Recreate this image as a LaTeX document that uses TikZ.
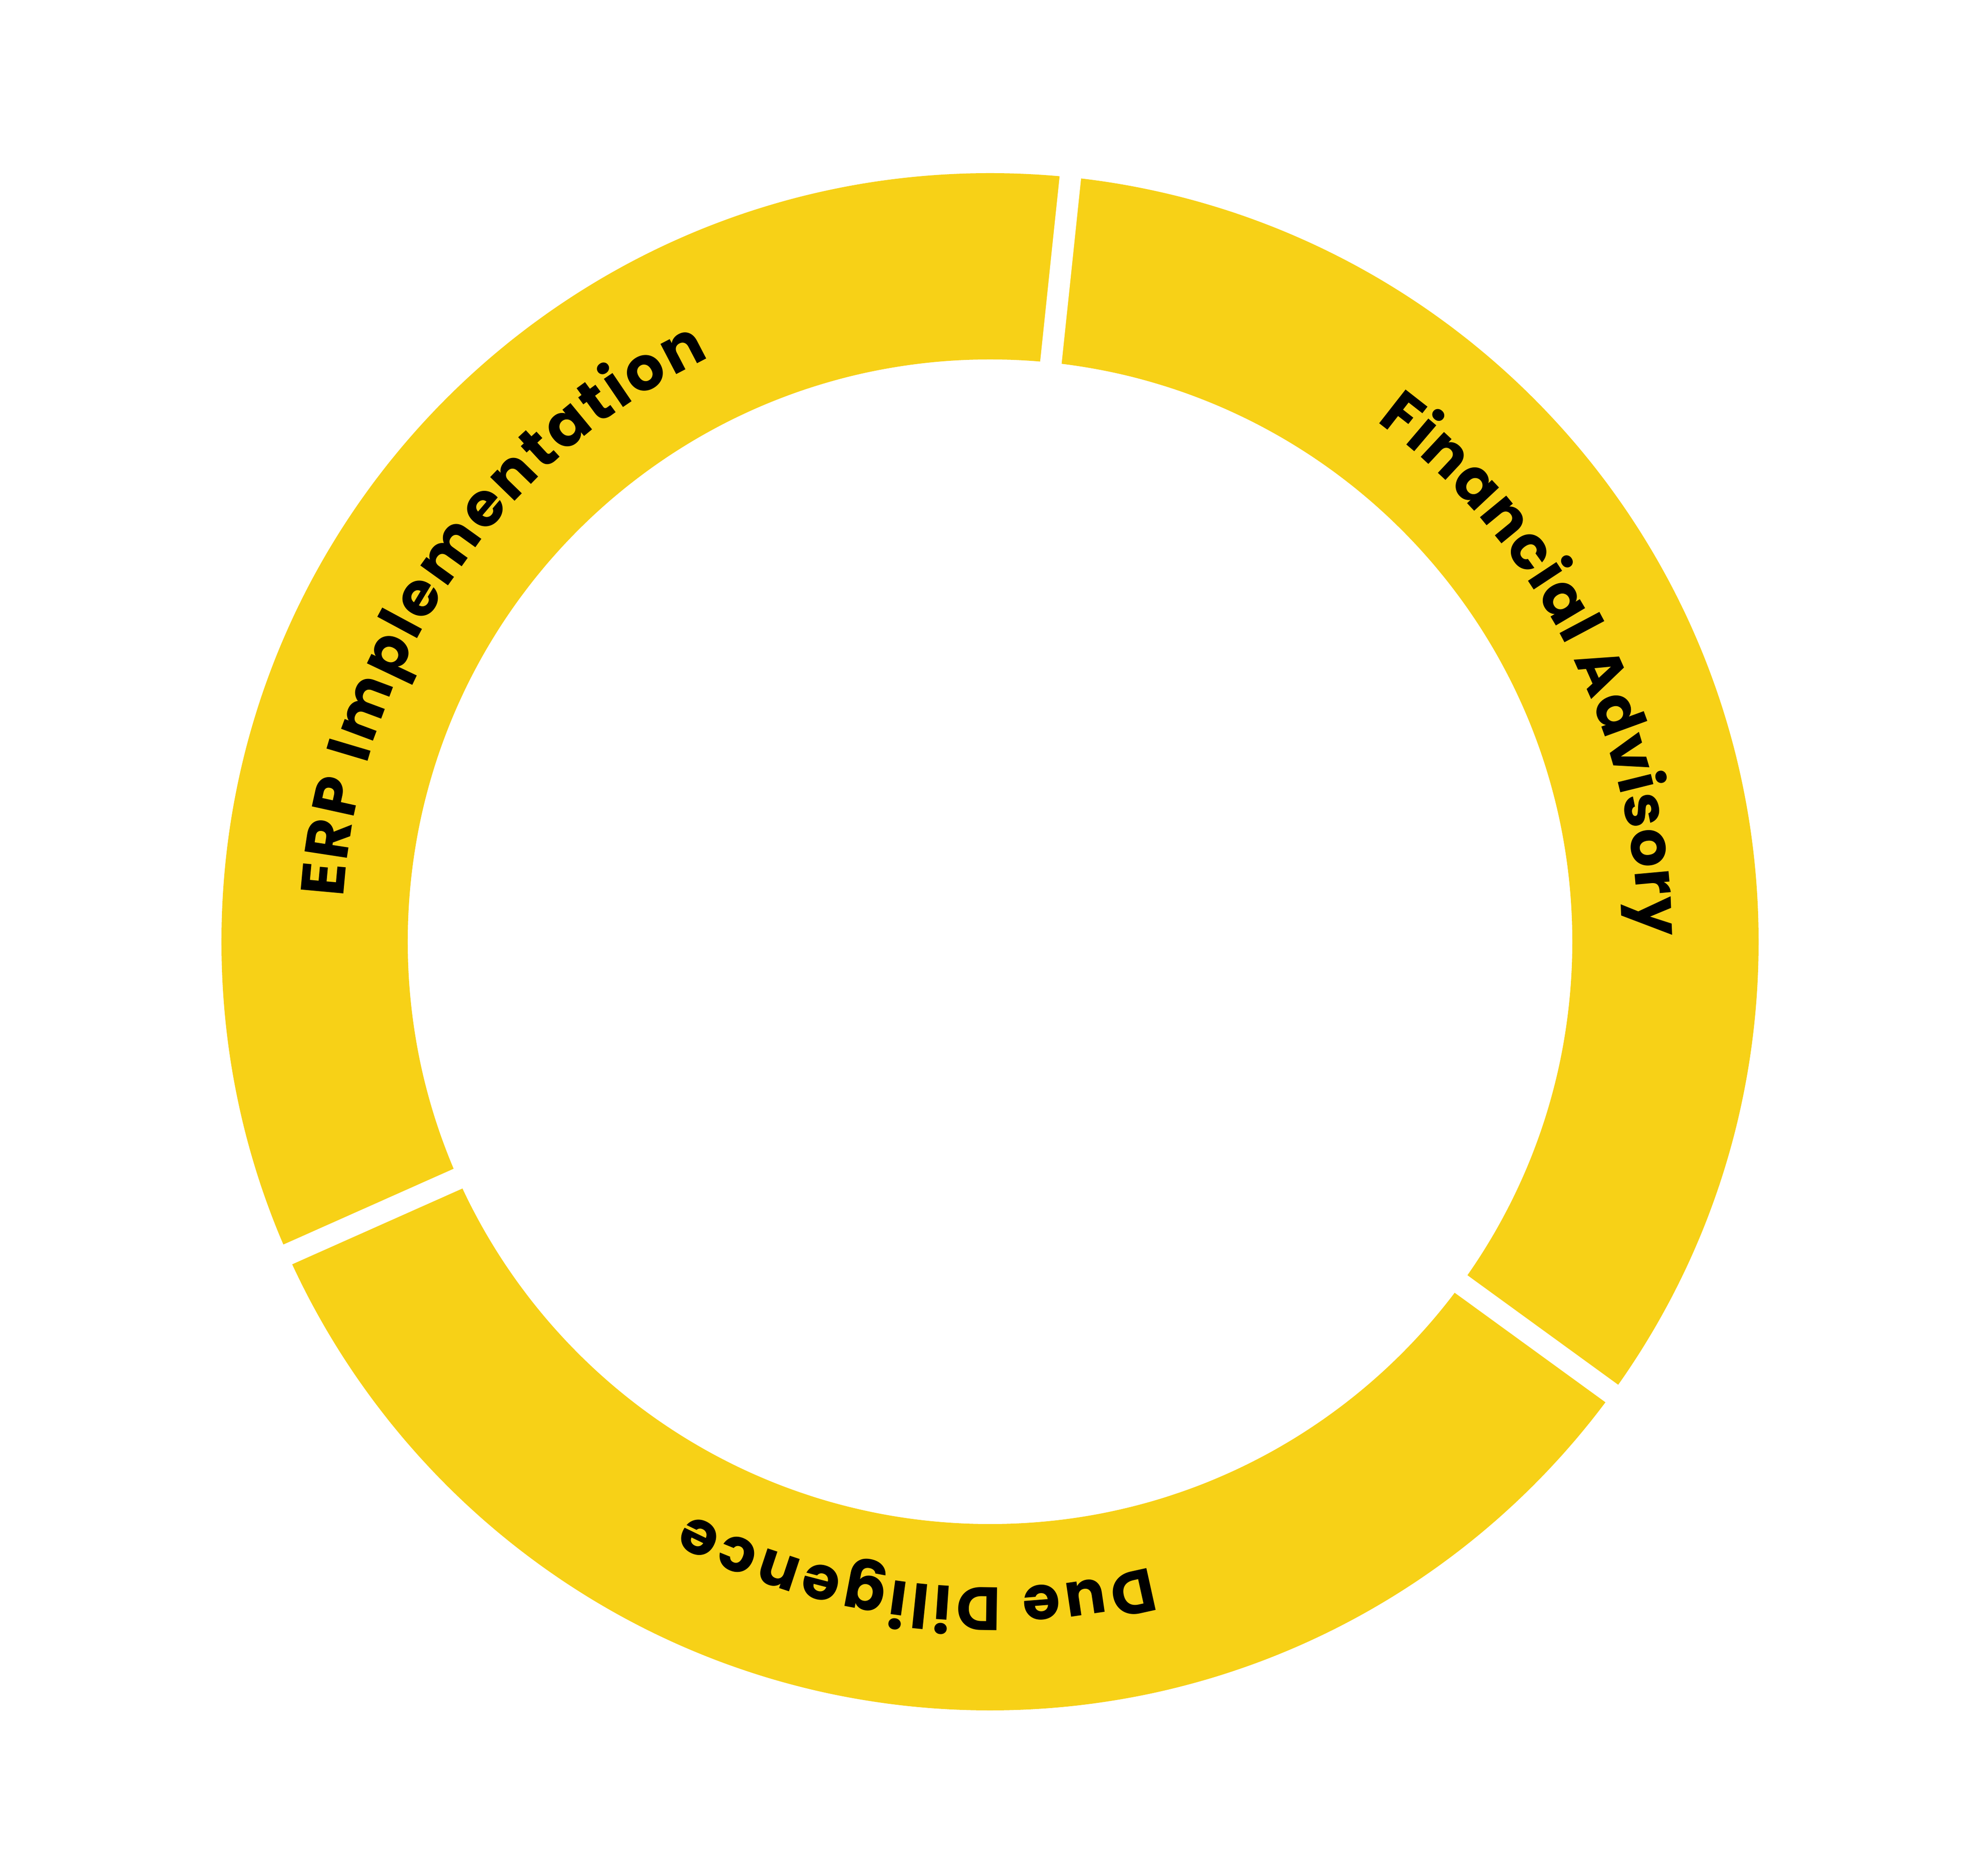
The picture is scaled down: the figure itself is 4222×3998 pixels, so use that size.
\documentclass[tikz,border=0pt]{standalone}
\usepackage{fontspec}
\setmainfont{Poppins}[BoldFont={Poppins Bold}]
\usetikzlibrary{decorations.text}
\definecolor{ringyellow}{HTML}{F7D117}
\newcommand\ringlabelfont{\fontsize{130pt}{130pt}\selectfont\bfseries}
\tikzset{
  ring/.style={fill=ringyellow, even odd rule},
  gapline/.style={draw=white, line width=46pt},
  ringtext/.style 2 args={decorate, decoration={text along path, text align=center,
    text={|\ringlabelfont\kern#2|#1}}}
}
\begin{document}
\begin{tikzpicture}
\useasboundingbox[fill=white] (-2110pt,-1991pt) rectangle (2112pt,2007pt);
% ring
\path[ring] (0,0) circle[radius=1638pt] (0,0) circle[radius=1241pt];
% gaps between the three segments
\coordinate (g1a) at (84:1200pt);  \coordinate (g1b) at (84:1700pt);
\coordinate (g2a) at (204:1200pt); \coordinate (g2b) at (204:1700pt);
\coordinate (g3a) at (324:1200pt); \coordinate (g3b) at (324:1700pt);
\draw[gapline] (g1a) -- (g1b);
\draw[gapline] (g2a) -- (g2b);
\draw[gapline] (g3a) -- (g3b);
% labels
\path[ringtext={ERP Implementation}{6pt}] (191:1381pt) arc[start angle=191, end angle=101, radius=1381pt];
\path[ringtext={Financial Advisory}{2pt}] (72:1381pt) arc[start angle=72, end angle=-18, radius=1381pt];
\path[ringtext={Due Diligence}{8pt}] (308.5:1376pt) arc[start angle=308.5, end angle=218.5, radius=1376pt];
\end{tikzpicture}
\end{document}
